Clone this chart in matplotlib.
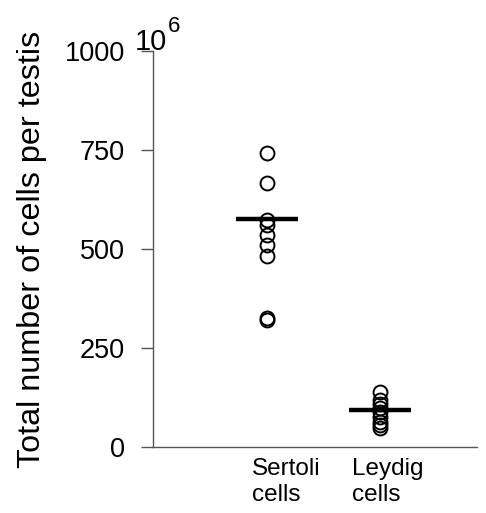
import matplotlib
matplotlib.use("Agg")
import matplotlib.pyplot as plt

# ---- Data (values in 10^6 cells per testis) ----
GROUPS       = ["Sertoli\ncells", "Leydig\ncells"]
SERTOLI      = [742, 667, 573, 561, 535, 510, 482, 325, 320]
LEYDIG       = [139, 118, 108, 98, 88, 76, 64, 55, 47]
CENTRE_LINES = [576, 93]
Y_TICKS      = [0, 250, 500, 750, 1000]

# ---- Layout ----
X_POS      = [0.352, 0.70]     # where the dots sit (axes fraction)
LABEL_POS  = [0.306, 0.614]    # left edge of the category labels
HALF_WIDTH = 0.096
AXIS_GREY  = "#555555"
FONT       = "Liberation Sans"

plt.rcParams["font.family"] = [FONT, "DejaVu Sans"]

fig = plt.figure(figsize=(4.86, 5.13), dpi=100)
ax = fig.add_axes([0.3148, 0.1287, 0.6667, 0.772])

for x, vals, mid in zip(X_POS, [SERTOLI, LEYDIG], CENTRE_LINES):
    ax.plot([x] * len(vals), vals, "o", ms=10, mfc="none", mec="black", mew=1.4,
            clip_on=False, zorder=3)
    ax.plot([x - HALF_WIDTH, x + HALF_WIDTH], [mid, mid], color="black", lw=3.2,
            solid_capstyle="butt", zorder=4)

ax.set_xlim(0, 1)
ax.set_ylim(0, 1000)
ax.set_yticks(Y_TICKS)
ax.set_xticks(LABEL_POS)
ax.set_xticklabels(GROUPS, ha="left", fontsize=17.5, linespacing=1.25)
ax.tick_params(axis="x", length=0, pad=8)
ax.tick_params(axis="y", length=9, width=1, color=AXIS_GREY, labelsize=19.5, pad=11)

for side in ("top", "right"):
    ax.spines[side].set_visible(False)
for side in ("left", "bottom"):
    ax.spines[side].set_color(AXIS_GREY)
    ax.spines[side].set_linewidth(1)

ax.set_ylabel("Total number of cells per testis", fontsize=23.3, labelpad=13)

# multiplier in the top-left corner
fig.text(135 / 486, 1 - 50 / 513, "10", fontsize=21, ha="left", va="baseline")
fig.text(168 / 486, 1 - 32 / 513, "6", fontsize=16, ha="left", va="baseline")

fig.savefig("out.png", dpi=100)
